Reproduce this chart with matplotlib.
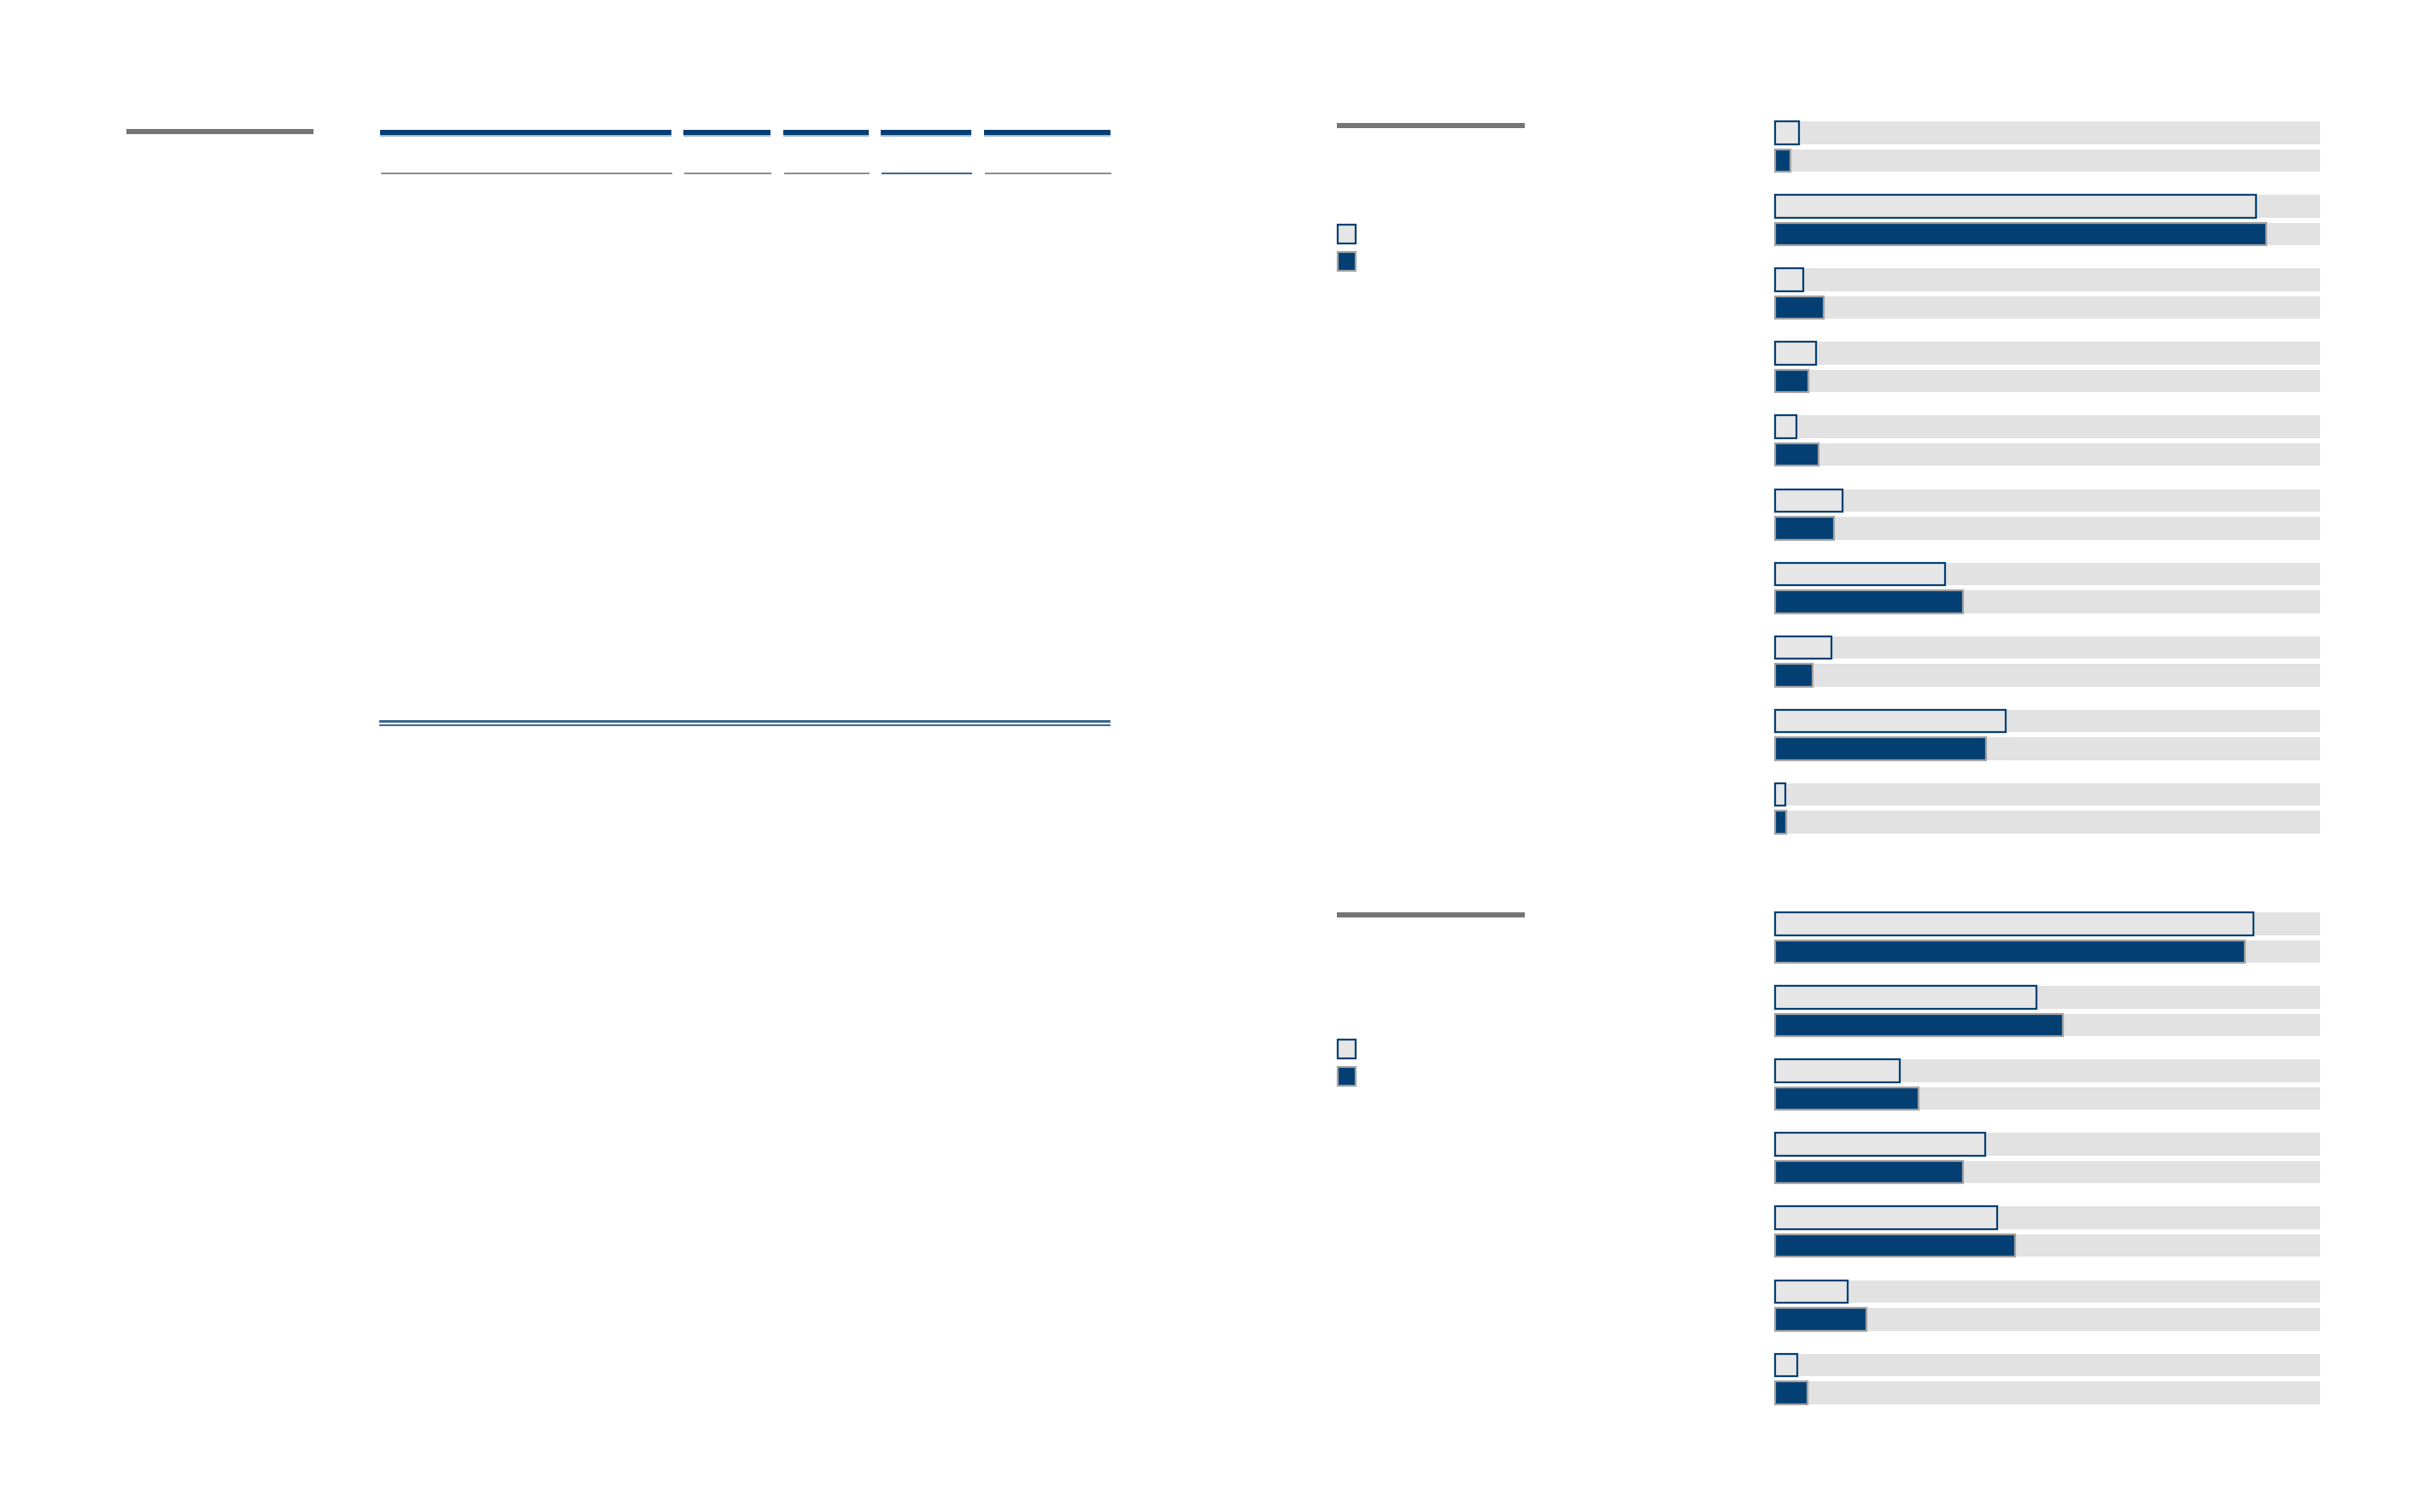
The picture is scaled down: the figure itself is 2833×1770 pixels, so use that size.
import matplotlib
matplotlib.use("Agg")
import matplotlib.pyplot as plt
from matplotlib.patches import Rectangle

# ---- data (percent of full scale) ----
top_outline = [4.4, 88.2, 5.2, 7.5, 3.9, 12.4, 31.2, 10.3, 42.3, 1.9]
top_dark = [2.8, 90.1, 8.9, 6.1, 8.0, 10.8, 34.5, 6.9, 38.7, 2.0]
bottom_outline = [87.8, 48.0, 22.9, 38.6, 40.8, 13.3, 4.1]
bottom_dark = [86.2, 52.8, 26.3, 34.5, 44.0, 16.8, 6.0]

# ---- style ----
BLUE = '#033f73'
BG = '#e2e2e2'
LIGHT = '#e6e6e6'
GREYEDGE = '#a3a3a3'
RULEGREY = '#757575'
THINGREY = '#8e8e8e'
LIGHTBLUE = '#9fb9d2'
MIDBLUE = '#3b6893'

W, H = 2833, 1770
fig = plt.figure(figsize=(W / 100, H / 100), dpi=100)
fig.patch.set_facecolor('white')


def frect(x0, y0, x1, y1, color, edge='none', lw=0):
    r = Rectangle((x0 / W, 1 - y1 / H), (x1 - x0) / W, (y1 - y0) / H,
                  transform=fig.transFigure, facecolor=color,
                  edgecolor=edge, lw=lw)
    fig.add_artist(r)


# ---- left table rules ----
frect(148, 151, 367, 157, RULEGREY)
segs = [(445, 786), (800, 902), (917, 1017), (1031, 1137), (1152, 1300)]
for i, (a, b) in enumerate(segs):
    frect(a, 152, b, 158, BLUE)
    frect(a, 158, b, 159.5, LIGHTBLUE)
    frect(a + 1, 202, b + 1, 204, MIDBLUE if i == 3 else THINGREY)
frect(444, 843, 1300, 845.5, MIDBLUE)
frect(444, 848, 1300, 850.5, MIDBLUE)


# ---- bar panels ----
def panel(top_px, line_y, legend_y, outline_vals, dark_vals):
    n = len(outline_vals)
    pitch_g, pitch_r, bh = 86.1, 32.5, 26.5
    total = (n - 1) * pitch_g + pitch_r + bh
    ax = fig.add_axes([2078 / W, 1 - (top_px + total) / H, 638 / W, total / H])
    ax.set_xlim(0, 100)
    ax.set_ylim(total, 0)
    ax.axis('off')
    y1 = [i * pitch_g + bh / 2 for i in range(n)]
    y2 = [v + pitch_r for v in y1]
    ax.barh(y1 + y2, [100] * (2 * n), height=bh, color=BG, lw=0)
    b1 = ax.barh(y1, outline_vals, height=bh, facecolor=LIGHT,
                 edgecolor=BLUE, lw=1.6)
    b2 = ax.barh(y2, dark_vals, height=bh, facecolor=BLUE,
                 edgecolor=GREYEDGE, lw=1.6)
    for p in list(b1) + list(b2):
        p.set_clip_on(False)
    # header rule and legend swatches
    frect(1565, line_y - 3, 1785, line_y + 3, RULEGREY)
    frect(1566, legend_y, 1587, legend_y + 22, LIGHT, BLUE, 1.6)
    frect(1566, legend_y + 32, 1587, legend_y + 54, BLUE, GREYEDGE, 1.6)


panel(142, 147, 263, top_outline, top_dark)
panel(1068, 1071, 1217, bottom_outline, bottom_dark)

fig.savefig('out.png', dpi=100, facecolor='white')
